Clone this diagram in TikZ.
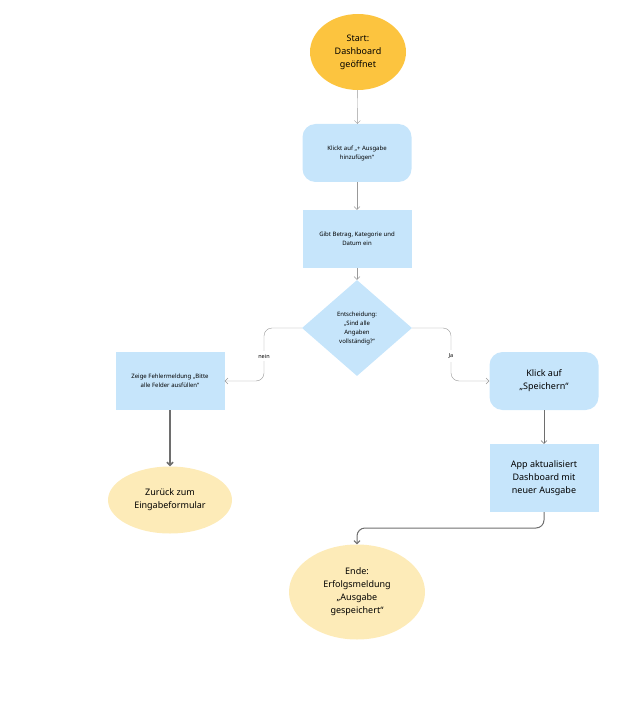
\documentclass[tikz,border=0pt]{standalone}
\usepackage{fontspec}
\setmainfont{Noto Sans}
\usetikzlibrary{shapes.geometric,arrows.meta}
\definecolor{boxblue}{HTML}{C6E5FB}
\definecolor{startorange}{HTML}{FCC43F}
\definecolor{endyellow}{HTML}{FDEBB8}
\definecolor{linegrey}{HTML}{6E6E6E}
\begin{document}
\begin{tikzpicture}
		[x=1pt,y=-1pt,
		task/.style ={rectangle, fill=boxblue, align=center, font=\fontsize{6}{9}\selectfont, minimum width=109pt, minimum height=58pt},
		roundtask/.style ={task, rounded corners=13pt},
		oval/.style ={ellipse, align=center, font=\fontsize{9}{13}\selectfont},
		choice/.style ={diamond, fill=boxblue, align=center, font=\fontsize{6}{9}\selectfont, minimum width=110pt, minimum height=96pt, inner sep=0pt},
		line/.style ={draw=linegrey!70, -{Straight Barb[length=3pt]}, rounded corners=8pt},
		bold/.style ={line, draw=linegrey, line width=1.5pt},
		]
		\useasboundingbox (0,0) rectangle (618,703);

		\node[oval, fill=startorange, minimum width=96pt, minimum height=76pt] (start) at (358,52) {Start:\\Dashboard\\geöffnet};
		\node[roundtask] (klickt) at (357,153) {Klickt auf „+ Ausgabe\\hinzufügen“};
		\node[task] (gibt) at (357,239) {Gibt Betrag, Kategorie und\\Datum ein};
		\node[choice] (check) at (357,328) {Entscheidung:\\„Sind alle\\Angaben\\vollständig?“};
		\node[task] (fehler) at (170,381) {Zeige Fehlermeldung „Bitte\\alle Felder ausfüllen“};
		\node[oval, fill=endyellow, minimum width=124pt, minimum height=67pt] (zurueck) at (170,500) {Zurück zum\\Eingabeformular};
		\node[roundtask, font=\fontsize{9}{13}\selectfont] (speichern) at (544,381) {Klick auf\\„Speichern“};
		\node[task, font=\fontsize{9}{13}\selectfont, minimum height=68pt] (update) at (544,478) {App aktualisiert\\Dashboard mit\\neuer Ausgabe};
		\node[oval, fill=endyellow, minimum width=136pt, minimum height=95pt] (ende) at (357,592) {Ende:\\Erfolgsmeldung\\„Ausgabe\\gespeichert“};

		\draw[line] (start) -- (klickt);
		\draw[line] (klickt) -- (gibt);
		\draw[line] (gibt) -- (check);
		\draw[line] (check.west) -| (264,356) |- (fehler.east);
		\draw[line] (check.east) -| (451,356) |- (speichern.west);
		\node[font=\fontsize{5.5}{7}\bfseries\selectfont, fill=white] at (264,356) {nein};
		\node[font=\fontsize{5.5}{7}\bfseries\selectfont, fill=white] at (451,356) {Ja};
		\draw[bold] (fehler) -- (zurueck);
		\draw[line, draw=linegrey] (speichern) -- (update);
		\draw[line, draw=linegrey, line width=1pt] (update.south) |- (400,528) -| (ende.north);
	\end{tikzpicture}
\end{document}
